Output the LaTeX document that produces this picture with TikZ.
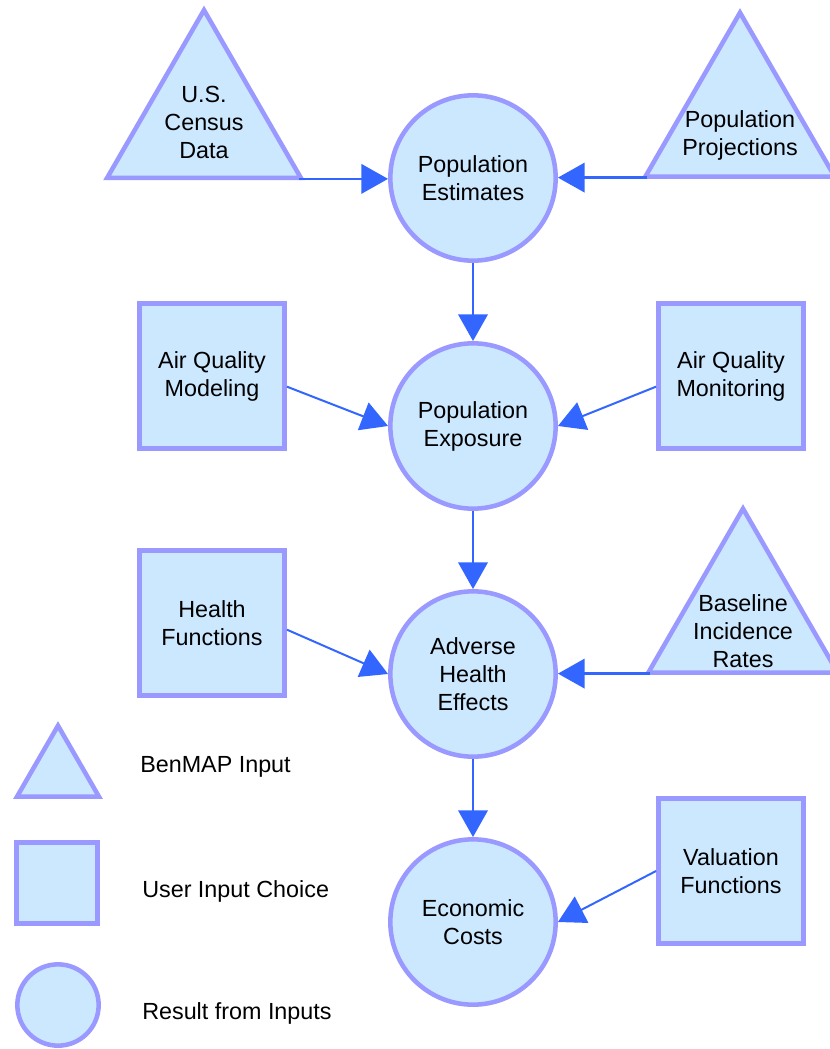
\documentclass[tikz,border=0pt]{standalone}
\usepackage{fontspec}
\setmainfont{Liberation Sans}
\usetikzlibrary{shapes.geometric,arrows.meta,calc}
\definecolor{shapefill}{RGB}{204,232,255}
\definecolor{shapeline}{RGB}{153,153,255}
\definecolor{arrowblue}{RGB}{51,102,255}
\begin{document}
\begin{tikzpicture}[x=0.75pt,y=-0.75pt,
  shapebase/.style={draw=shapeline,fill=shapefill,line width=3.4pt,text=black,
    font=\fontsize{17.5}{21}\selectfont,align=center,inner sep=0pt},
  result/.style={shapebase,circle,minimum size=124pt},
  userbox/.style={shapebase,rectangle,minimum size=109pt},
  inputtri/.style={shapebase,regular polygon,regular polygon sides=3,minimum size=164pt},
  lbl/.style={font=\fontsize{17.5}{21}\selectfont,align=center,inner sep=0pt,text=black},
  arr/.style={draw=arrowblue,line width=1.9pt,-{Triangle[length=20pt,width=22pt]}},
  darr/.style={arr,line width=1.5pt}]
\useasboundingbox (0,0) rectangle (830,1049);

% results
\node[result] (pe) at (473,178) {Population\\Estimates};
\node[result] (px) at (473,426) {Population\\Exposure};
\node[result] (ah) at (473,674) {Adverse\\Health\\Effects};
\node[result] (ec) at (473,922) {Economic\\Costs};

% BenMAP inputs
\node[inputtri] (census) at (204,122) {U.S.\\Census\\Data};
\node[inputtri] (proj) at (740,122) {};
\node[lbl] (projT) at ($(proj.center)+(0,13)$) {Population\\Projections};
\node[inputtri] (bir) at (743,618) {};
\node[lbl] (birT) at ($(bir.center)+(0,13)$) {Baseline\\Incidence\\Rates};

% user input choices
\node[userbox] (aqm) at (212,376) {Air Quality\\Modeling};
\node[userbox] (aqmon) at (731,376) {Air Quality\\Monitoring};
\node[userbox] (hf) at (212,623) {Health\\Functions};
\node[userbox] (vf) at (731,871) {Valuation\\Functions};

% legend
\node[inputtri,minimum size=71pt] (lgT) at (58,773) {};
\node[userbox,minimum size=61pt] (lgS) at (57,883) {};
\node[result,minimum size=61pt] (lgC) at (58,1005) {};
\node[lbl,anchor=west] (lgTt) at (140,767) {BenMAP Input};
\node[lbl,anchor=west] (lgSt) at (142,891) {User Input Choice};
\node[lbl,anchor=west] (lgCt) at (142,1013) {Result from Inputs};

% connectors
\draw[arr] ([xshift=-4pt,yshift=1pt]census.corner 3) -- ([yshift=1pt]census.corner 3 -| pe.west);
\draw[arr] ([xshift=4pt,yshift=1pt]proj.corner 2) -- ([yshift=1pt]proj.corner 2 -| pe.east);
\draw[arr] (pe.south) -- (px.north);
\draw[arr] (px.south) -- (ah.north);
\draw[arr] (ah.south) -- (ec.north);
\draw[darr] ([yshift=-8pt]aqm.east) -- (px.west);
\draw[darr] ([yshift=-8pt]aqmon.west) -- (px.east);
\draw[darr] ([yshift=-5pt]hf.east) -- (ah.west);
\draw[arr] ([xshift=4pt,yshift=1pt]bir.corner 2) -- ([yshift=1pt]bir.corner 2 -| ah.east);
\draw[darr] (vf.west) -- (ec.east);
\end{tikzpicture}
\end{document}
